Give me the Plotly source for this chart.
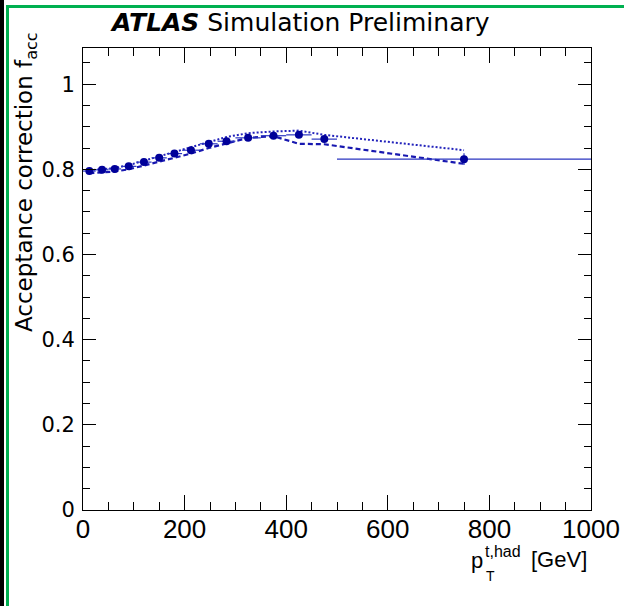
import numpy as np
import plotly.graph_objects as go

# ---- data ----
bin_edges = [0, 25, 50, 75, 105, 135, 165, 195, 230, 265, 300, 350, 400, 450, 500, 1000]
f_nominal = [0.796, 0.799, 0.801, 0.807, 0.817, 0.827, 0.837, 0.845, 0.860, 0.866,
             0.874, 0.879, 0.881, 0.871, 0.824]
f_err = [0.003, 0.003, 0.003, 0.003, 0.003, 0.003, 0.003, 0.003, 0.003, 0.003,
         0.004, 0.004, 0.005, 0.006, 0.014]
f_up = [0.798, 0.801, 0.803, 0.810, 0.820, 0.831, 0.840, 0.851, 0.863, 0.876,
        0.885, 0.889, 0.891, 0.881, 0.845]
f_down = [0.791, 0.793, 0.795, 0.800, 0.809, 0.818, 0.827, 0.837, 0.850, 0.861,
          0.874, 0.878, 0.860, 0.859, 0.813]
x_ticks = [0, 200, 400, 600, 800, 1000]
y_ticks = [0, 0.2, 0.4, 0.6, 0.8, 1.0]
y_ticktext = ["0", "0.2", "0.4", "0.6", "0.8", "1"]

edges = np.array(bin_edges, dtype=float)
x_c = 0.5 * (edges[:-1] + edges[1:])
x_hw = 0.5 * (edges[1:] - edges[:-1])

BLUE = "#000099"
FONT = "DejaVu Sans"
FONT2 = "Liberation Sans"

fig = go.Figure()
fig.add_trace(go.Scatter(x=x_c, y=f_up, mode="lines",
                         line=dict(color="#2323bb", width=2, dash="2px,2px"),
                         showlegend=False, hoverinfo="skip"))
fig.add_trace(go.Scatter(x=x_c, y=f_down, mode="lines",
                         line=dict(color="#1818b0", width=2.2, dash="5px,3px"),
                         showlegend=False, hoverinfo="skip"))
fig.add_trace(go.Scatter(x=x_c, y=f_nominal, mode="markers",
                         marker=dict(color=BLUE, size=8, symbol="circle"),
                         error_x=dict(type="data", array=x_hw, color="#2a35c0", thickness=1.2, width=0),
                         error_y=dict(type="data", array=f_err, color="#2a35c0", thickness=1.2, width=0),
                         showlegend=False))

# plot area geometry helpers (for margin decorations)
L, R, T, B = 83, 33, 48, 96
W, H = 624, 606
pw, ph = W - L - R, H - T - B

def px(x):
    return (x - L) / pw

def py(y):
    return (H - B - y) / ph

axis_common = dict(showline=True, linecolor="black", linewidth=1, mirror="ticks",
                   ticks="inside", tickcolor="black", tickwidth=1,
                   showgrid=False, zeroline=False)

fig.update_xaxes(range=[0, 1000], tickvals=x_ticks, ticklen=15, ticklabelstandoff=-4,
                 tickfont=dict(family=FONT2, size=26, color="black"),
                 minor=dict(dtick=50, ticklen=8, ticks="inside", tickcolor="black", tickwidth=1, showgrid=False),
                 **axis_common)
fig.update_yaxes(range=[0, 1.085], tickvals=y_ticks, ticktext=y_ticktext,
                 ticklen=13, ticklabelstandoff=3, tickfont=dict(family=FONT, size=21, color="black"),
                 minor=dict(dtick=0.05, ticklen=7, ticks="inside", tickcolor="black", tickwidth=1, showgrid=False),
                 **axis_common)

annotations = [
    dict(text="<b><i>ATLAS</i></b> Simulation Preliminary", x=px(108), y=py(22),
         xanchor="left", yanchor="middle", font=dict(family=FONT, size=25, color="black")),
    dict(text="Acceptance correction f<sub>acc</sub>", x=px(26), y=py(182), textangle=-90,
         xanchor="center", yanchor="middle", font=dict(family=FONT, size=23, color="black")),
    dict(text="p", x=px(469), y=py(560), xanchor="left", yanchor="middle",
         font=dict(family=FONT2, size=22, color="black")),
    dict(text="t,had", x=px(483), y=py(551), xanchor="left", yanchor="middle",
         font=dict(family=FONT2, size=16, color="black")),
    dict(text="T", x=px(484), y=py(576), xanchor="left", yanchor="middle",
         font=dict(family=FONT2, size=14, color="black")),
    dict(text="[GeV]", x=px(529), y=py(559), xanchor="left", yanchor="middle",
         font=dict(family=FONT2, size=22, color="black")),
]
for a in annotations:
    a.update(xref="paper", yref="paper", showarrow=False)

shapes = [
    dict(type="rect", x0=px(-1), x1=px(4), y0=py(0), y1=py(606), fillcolor="black", line=dict(width=0)),
    dict(type="line", x0=px(7.5), x1=px(7.5), y0=py(5), y1=py(606), line=dict(color="#00b050", width=3)),
    dict(type="line", x0=px(6), x1=px(624), y0=py(6.5), y1=py(6.5), line=dict(color="#00b050", width=3)),
]
for s in shapes:
    s.update(xref="paper", yref="paper", layer="above")

fig.update_layout(width=W, height=H, margin=dict(l=L, r=R, t=T, b=B, autoexpand=False),
                  paper_bgcolor="white", plot_bgcolor="white",
                  annotations=annotations, shapes=shapes, showlegend=False)

fig.write_html("out.html", config={"displayModeBar": False},
               post_script="document.body.style.margin='0';document.body.style.overflow='hidden';")
